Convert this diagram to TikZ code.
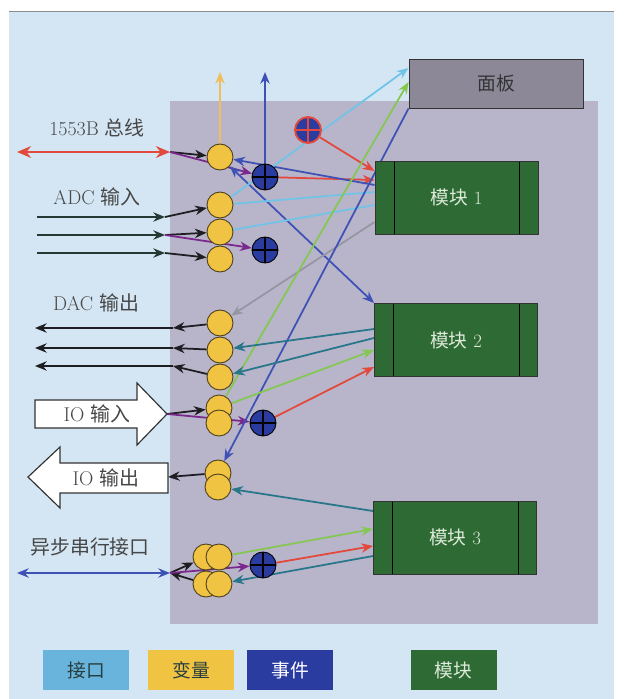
\documentclass[tikz,border=0pt]{standalone}
\usepackage{fontspec}
\newfontfamily\cjk{Noto Sans CJK SC}
\usetikzlibrary{
  arrows.meta,  % Stealth 箭头
  backgrounds   % 连线放在背景层
}
\definecolor{bgblue}{RGB}{212,230,243}
\definecolor{panelbg}{RGB}{184,180,202}
\definecolor{modgreen}{RGB}{46,106,52}
\definecolor{modtext}{RGB}{222,234,218}
\definecolor{boardgray}{RGB}{140,136,152}
\definecolor{varfill}{RGB}{240,196,66}
\definecolor{varedge}{RGB}{80,66,30}
\definecolor{evfill}{RGB}{42,60,160}
\definecolor{redc}{RGB}{226,72,60}
\definecolor{purc}{RGB}{122,40,140}
\definecolor{bluec}{RGB}{62,82,182}
\definecolor{cyanc}{RGB}{112,196,230}
\definecolor{greenc}{RGB}{132,200,82}
\definecolor{tealc}{RGB}{40,118,138}
\definecolor{grayc}{RGB}{150,150,162}
\definecolor{blk}{RGB}{30,30,34}
\definecolor{adcc}{RGB}{36,56,52}
\definecolor{ylwc}{RGB}{240,190,92}
\definecolor{lgblue}{RGB}{104,180,220}
\definecolor{lgtext}{RGB}{40,62,62}
\tikzset{
  label text/.style={
    font=\fontsize{17}{20}\selectfont,
    text=black!72
  },
  var/.style={
    circle,
    draw=varedge,
    fill=varfill,
    line width=0.8pt,
    minimum size=0.78cm,
    inner sep=0pt
  },
  event/.style={
    circle,
    draw=black,
    fill=evfill,
    line width=0.8pt,
    minimum size=0.78cm,
    inner sep=0pt,
    path picture={
      \draw[#1, line width=0.9pt]
        (path picture bounding box.north) -- (path picture bounding box.south)
        (path picture bounding box.west) -- (path picture bounding box.east);
    }
  },
  event/.default=black,
  module/.style={
    draw=black!80,
    fill=modgreen,
    line width=0.8pt,
    minimum width=4.89cm,
    minimum height=2.19cm,
    text=modtext,
    font=\fontsize{16}{19}\selectfont,
    path picture={
      \draw[black, line width=0.8pt]
        ([xshift=0.57cm]path picture bounding box.north west) --
        ([xshift=0.57cm]path picture bounding box.south west)
        ([xshift=-0.55cm]path picture bounding box.north east) --
        ([xshift=-0.55cm]path picture bounding box.south east);
    }
  },
  board/.style={
    draw=black!80,
    fill=boardgray,
    line width=0.8pt,
    minimum width=5.22cm,
    minimum height=1.47cm,
    font=\fontsize{16}{19}\selectfont,
    text=black!80
  },
  legend/.style={
    minimum width=2.58cm,
    minimum height=1.2cm,
    font=\fontsize{16}{19}\selectfont
  },
  link/.style={
    -{Stealth[length=10pt,width=8pt]},
    line width=1.5pt
  },
  twolink/.style={
    {Stealth[length=10pt,width=8pt]}-{Stealth[length=10pt,width=8pt]},
    line width=1.5pt
  },
  bus/.style={
    {Stealth[length=12pt,width=10pt]}-{Stealth[length=12pt,width=10pt]},
    line width=1.7pt
  },
  io arrow/.style={
    draw=black!80,
    fill=white,
    line width=1pt
  }
}

\begin{document}
\begin{tikzpicture}[x=0.03cm, y=-0.03cm]
  % 画布：坐标按原图像素，y 向下
  \useasboundingbox (0,0) rectangle (627,699);

  \begin{scope}[on background layer]
    \fill[white] (0,0) rectangle (627,699);
    \fill[bgblue] (9,11) rectangle (614,699);
    \draw[black!45, line width=0.8pt] (9,11) -- (614,11);
    \fill[panelbg] (170,101) rectangle (598,624);
  \end{scope}

  % 1. 面板与模块
  \node[board] (panel) at (496,83.5) {\cjk 面板};
  \node[module] (m1) at (456.5,197.5) {{\cjk 模块} 1};
  \node[module] (m2) at (456,340) {{\cjk 模块} 2};
  \node[module] (m3) at (455,537.5) {{\cjk 模块} 3};

  % 2. 左侧接口文字
  \node[label text] at (97,128) {1553B {\cjk 总线}};
  \node[label text] at (97,197) {ADC {\cjk 输入}};
  \node[label text] at (96,303) {DAC {\cjk 输出}};
  \node[label text] at (90,547) {\cjk 异步串行接口};

  % 3. IO 空心大箭头
  \draw[io arrow] (35,400) -- (137,400) -- (137,383) -- (167,414)
    -- (137,445) -- (137,428) -- (35,428) -- cycle;
  \node[label text] at (97,414) {IO {\cjk 输入}};
  \coordinate (ioin) at (167,414);
  \draw[io arrow] (168,463) -- (60,463) -- (60,447) -- (28,477)
    -- (60,508) -- (60,493) -- (168,493) -- cycle;
  \node[label text] at (106,478) {IO {\cjk 输出}};
  \coordinate (ioout) at (168,477);

  % 4. 变量（黄）与事件（蓝）
  \node[var] (v1) at (220,157) {};
  \node[var] (a1) at (220,205) {};
  \node[var] (a2) at (220,232) {};
  \node[var] (a3) at (220,259) {};
  \node[var] (d1) at (220,323) {};
  \node[var] (d2) at (220,350) {};
  \node[var] (d3) at (220,377) {};
  \node[var] (ii1) at (219,408) {};
  \node[var] (ii2) at (219,423) {};
  \node[var] (io1) at (218,473) {};
  \node[var] (io2) at (218,487) {};
  \node[var] (s1) at (206,557) {};
  \node[var] (s2) at (219,557) {};
  \node[var] (s3) at (206,584) {};
  \node[var] (s4) at (219,584) {};

  \node[event] (e1) at (265,177) {};
  \node[event] (e2) at (265,250) {};
  \node[event] (e3) at (263,423) {};
  \node[event] (e4) at (263,565) {};
  \node[event=redc, draw=redc, line width=1.6pt] (ep) at (308,130) {};

  % 5. 图例
  \node[legend, fill=lgblue, text=lgtext] (lg1) at (86,670) {\cjk 接口};
  \node[legend, fill=varfill, text=lgtext] (lg2) at (191,670) {\cjk 变量};
  \node[legend, fill=evfill, text=white] (lg3) at (290,670) {\cjk 事件};
  \node[legend, fill=modgreen, text=modtext] (lg4) at (453.5,670) {\cjk 模块};

  % 6. 连线（背景层，压在圆下面）
  \begin{scope}[on background layer]
    % 1553B 总线
    \coordinate (bl) at (17,152);
    \coordinate (j1) at (170,152);
    \draw[bus, redc] (bl) -- (j1);
    \draw[link, blk] (j1) -- (v1);
    \draw[link, purc] (j1) -- (e1);
    \draw[link, ylwc] (v1.north) -- (v1.north |- 0,72);
    \draw[link, bluec] (e1.north) -- (e1.north |- 0,72);

    % ADC 输入
    \foreach \v/\y in {a1/217, a2/235, a3/253} {
      \coordinate (\v l) at (37,\y);
      \coordinate (\v j) at (165,\y);
      \draw[link, adcc] (\v l) -- (\v j);
      \draw[link, blk] (\v j) -- (\v);
    }
    \draw[link, purc] (a2j) -- (e2);

    % DAC 输出
    \foreach \v/\y in {d1/328, d2/348, d3/366} {
      \coordinate (\v j) at (173,\y);
      \coordinate (\v l) at (35,\y);
      \draw[link, blk] (\v) -- (\v j);
      \draw[link, blk] (\v j) -- (\v l);
    }

    % IO
    \draw[link, blk] (ioin) -- (ii1);
    \draw[link, purc] (ioin) -- (e3);
    \draw[link, blk] (io1) -- (ioout);

    % 异步串行接口
    \coordinate (sl) at (17,573);
    \coordinate (js) at (170,573);
    \draw[twolink, bluec] (sl) -- (js);
    \draw[link, blk] (js) -- (s1);
    \draw[link, blk] (s3) -- (js);
    \draw[link, purc] (js) -- (e4);

    % 模块 1 与面板
    \draw[link, redc] (ep) -- (m1.west |- 0,171);
    \draw[link, redc] (e1) -- (m1.west |- 0,180);
    \draw[link, bluec] (m1.west |- 0,185) -- (v1);
    \draw[twolink, bluec] (v1) -- (m2.north west);
    \draw[cyanc, line width=1.5pt] (a1) -- (m1.west |- 0,192);
    \draw[cyanc, line width=1.5pt] (a2) -- (m1.west |- 0,205);
    \draw[link, cyanc] (a1) -- (panel.west |- 0,68);
    \draw[link, grayc] (m1.west |- 0,222) -- (d1);
    \draw[link, greenc] (ii1) -- (panel.west |- 0,82);
    \draw[link, bluec] (panel.south west) -- (io1);

    % 模块 2
    \draw[link, tealc] (m2.west |- 0,329) -- (d2);
    \draw[link, tealc] (m2.west |- 0,338) -- (d3);
    \draw[link, greenc] (ii1) -- (m2.west |- 0,350);
    \draw[link, redc] (e3) -- (m2.west |- 0,367);

    % 模块 3
    \draw[link, tealc] (m3.west |- 0,511) -- (io2);
    \draw[link, greenc] (s2) -- (m3.west |- 0,529);
    \draw[link, redc] (e4) -- (m3.west |- 0,546);
    \draw[link, tealc] (m3.west |- 0,556) -- (s4);
  \end{scope}
\end{tikzpicture}
\end{document}
